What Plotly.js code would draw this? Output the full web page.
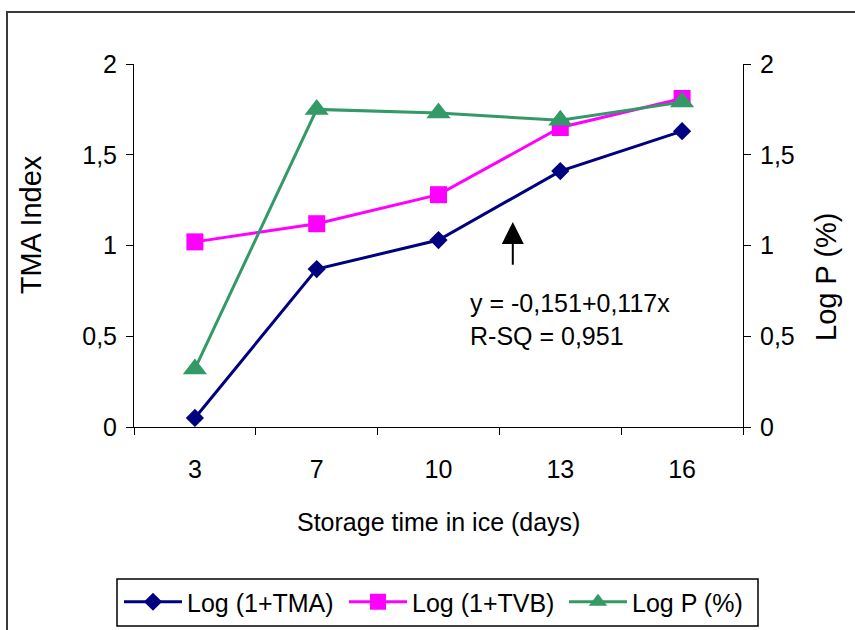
<!DOCTYPE html>
<html>
<head>
<meta charset="utf-8">
<script src="https://cdn.plot.ly/plotly-3.0.1.min.js"></script>
<style>
  html, body { margin: 0; padding: 0; background: #ffffff; }
  #wrap { position: relative; width: 855px; height: 630px; overflow: hidden; }
  #frame { position: absolute; left: 6px; top: 11px; width: 900px; height: 700px;
           border-left: 2px solid #3a3a3a; border-top: 2px solid #3a3a3a; pointer-events: none; }
  #chart { position: absolute; left: 0; top: 0; width: 855px; height: 630px; }
</style>
</head>
<body>
<div id="wrap">
  <div id="frame"></div>
  <div id="chart"></div>
</div>
<script>
const days = ["3", "7", "10", "13", "16"];
const logTMA = [0.05, 0.87, 1.03, 1.41, 1.63];
const logTVB = [1.02, 1.12, 1.28, 1.65, 1.81];
const logP = [0.32, 1.75, 1.73, 1.69, 1.79];
const yTicks = [0, 0.5, 1, 1.5, 2];
const seriesNames = ["Log (1+TMA)", "Log (1+TVB)", "Log P (%)"];

const FONT = "Arial, 'Liberation Sans', sans-serif";
const FS = 25;
const FS_VT = 29;

const traces = [
  { x: days, y: logTMA, name: seriesNames[0], type: "scatter", mode: "lines+markers", legend: "legend",
    line: { color: "#000080", width: 3 }, marker: { symbol: "diamond", size: 14, color: "#000080" } },
  { x: days, y: logTVB, name: seriesNames[1], type: "scatter", mode: "lines+markers", legend: "legend2",
    line: { color: "#FF00FF", width: 3 }, marker: { symbol: "square", size: 17, color: "#FF00FF" } },
  { x: days, y: logP, name: seriesNames[2], type: "scatter", mode: "lines+markers", legend: "legend3",
    line: { color: "#339966", width: 3 }, marker: { symbol: "triangle-up", size: 21, color: "#339966" } },
  { x: days, y: logP, yaxis: "y2", showlegend: false, hoverinfo: "skip", type: "scatter", mode: "none" }
];

function legendAt(xpx) {
  return {
    orientation: "h", xref: "container", yref: "container",
    x: xpx / 855, xanchor: "left", y: (630 - 602) / 630, yanchor: "middle",
    borderwidth: 0, bgcolor: "rgba(0,0,0,0)",
    font: { family: FONT, size: FS }, itemwidth: 58
  };
}

const layout = {
  width: 855, height: 630,
  margin: { l: 134, r: 112, t: 64, b: 203, autoexpand: false },
  paper_bgcolor: "rgba(0,0,0,0)", plot_bgcolor: "rgba(0,0,0,0)",
  separators: ",.",
  font: { family: FONT, size: FS, color: "#000000" },
  showlegend: true,
  xaxis: {
    type: "category", categoryorder: "array", categoryarray: days,
    range: [-0.5, days.length - 0.5],
    showline: true, linecolor: "#000000", linewidth: 1,
    ticks: "outside", tickson: "boundaries", ticklen: 7, tickcolor: "#000000",
    ticklabelstandoff: 20,
    showgrid: false, zeroline: false,
    tickfont: { family: FONT, size: FS }
  },
  yaxis: {
    range: [0, 2], tickvals: yTicks, tickformat: ".1~f",
    showline: true, linecolor: "#000000", linewidth: 1,
    ticks: "outside", ticklen: 7, tickcolor: "#000000",
    ticklabelstandoff: 4,
    showgrid: false, zeroline: false,
    tickfont: { family: FONT, size: FS }
  },
  yaxis2: {
    overlaying: "y", side: "right", anchor: "x",
    range: [0, 2], tickvals: yTicks, tickformat: ".1~f",
    showline: true, linecolor: "#000000", linewidth: 1,
    ticks: "outside", ticklen: 7, tickcolor: "#000000",
    ticklabelstandoff: 4,
    showgrid: false, zeroline: false,
    tickfont: { family: FONT, size: FS }
  },
  yaxis3: {
    overlaying: "y", side: "right", anchor: "x",
    range: [0, 2], tickvals: yTicks,
    showticklabels: false, showline: false,
    ticks: "inside", ticklen: 8, tickcolor: "#000000",
    showgrid: false, zeroline: false
  },
  legend: legendAt(119),
  legend2: legendAt(344),
  legend3: legendAt(564),
  shapes: [
    { type: "rect", xref: "paper", yref: "paper",
      x0: (117 - 134) / 609, x1: (758 - 134) / 609,
      y0: (427 - 579) / 363, y1: (427 - 626) / 363,
      line: { color: "#000000", width: 1.5 }, fillcolor: "rgba(0,0,0,0)", layer: "below" }
  ],
  annotations: [
    { text: "Storage time in ice (days)", xref: "paper", yref: "paper",
      x: 0.5, y: -0.2617, xanchor: "center", yanchor: "middle", showarrow: false,
      font: { family: FONT, size: FS } },
    { text: "TMA Index", xref: "paper", yref: "paper", textangle: -90,
      x: -0.169, y: 0.556, xanchor: "center", yanchor: "middle", showarrow: false,
      font: { family: FONT, size: FS_VT } },
    { text: "Log P (%)", xref: "paper", yref: "paper", textangle: -90,
      x: 1.136, y: 0.413, xanchor: "center", yanchor: "middle", showarrow: false,
      font: { family: FONT, size: FS_VT } },
    { text: "", xref: "x", yref: "y", x: 2.61, y: 1.13, axref: "x", ayref: "y",
      ax: 2.61, ay: 0.885, showarrow: true, arrowhead: 2, arrowsize: 2.2, arrowwidth: 2,
      arrowcolor: "#000000", standoff: 0 },
    { text: "y = -0,151+0,117x<br>R-SQ = 0,951", xref: "x", yref: "y",
      x: 2.24, y: 0.595, xanchor: "left", yanchor: "middle", align: "left", showarrow: false,
      font: { family: FONT, size: FS } }
  ]
};

Plotly.newPlot("chart", traces, layout, { staticPlot: true, displayModeBar: false });
</script>
</body>
</html>
